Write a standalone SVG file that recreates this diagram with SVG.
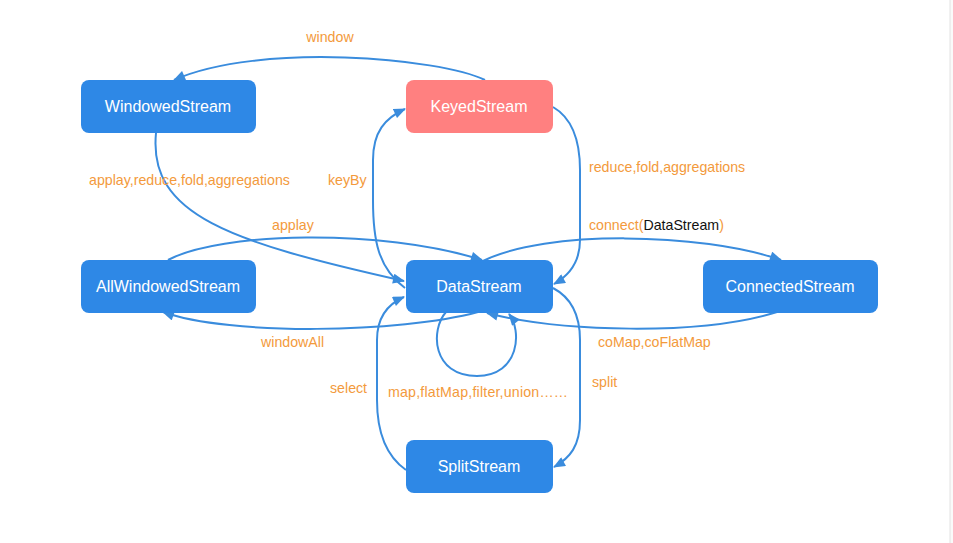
<svg xmlns="http://www.w3.org/2000/svg" width="953" height="543" viewBox="0 0 953 543">
<style>
.node rect{fill:#2E88E6;}
.node.keyed rect{fill:#FF8080;}
.node text{fill:#ffffff;font-family:"Liberation Sans",Arial,sans-serif;font-size:16px;text-anchor:middle;}
.edges path{fill:none;stroke:#3A8CDD;stroke-width:2;}
.lbl{fill:#F39A3C;font-family:"Liberation Sans",Arial,sans-serif;font-size:14.2px;}
.blk{fill:#111111;}
</style>
<defs>
<marker id="arr" viewBox="0 0 12 10" refX="11" refY="5" markerWidth="13" markerHeight="10" markerUnits="userSpaceOnUse" orient="auto">
<path d="M0,0 L12,5 L0,10 Z" fill="#3A8CDD"/>
</marker>
</defs>
<rect x="0" y="0" width="953" height="543" fill="#ffffff"/>
<rect x="950" y="0" width="3" height="543" fill="#fafafa"/>
<line x1="950" y1="0" x2="950" y2="543" stroke="#e2e2e2" stroke-width="1"/>

<g class="edges">
<path id="e-window" d="M485,80 C440,58 260,42 174,80" marker-end="url(#arr)"/>
<path id="e-wapply" d="M156,133 C148,215 230,242 404,281" marker-end="url(#arr)"/>
<path id="e-keyby" d="M405,288 C378,268 373,240 373,200 L373,160 C373,132 385,118 405,109" marker-end="url(#arr)"/>
<path id="e-reduce" d="M553,107 C572,118 580,140 580,170 L580,240 C580,262 570,275 554,284" marker-end="url(#arr)"/>
<path id="e-applay" d="M168,260 C220,232 380,228 482,260" marker-end="url(#arr)"/>
<path id="e-connect" d="M483,261 C545,230 700,232 781,260" marker-end="url(#arr)"/>
<path id="e-windowall" d="M478,312 C400,333 230,336 163,312" marker-end="url(#arr)"/>
<path id="e-comap" d="M777,312 C700,336 560,332 487,313" marker-end="url(#arr)"/>
<path id="e-self" d="M446,312 C430,330 432,376 477,376 C520,376 522,330 509,314" marker-end="url(#arr)"/>
<path id="e-select" d="M406,470 C386,456 377,432 377,400 L377,340 C377,316 388,304 404,297" marker-end="url(#arr)"/>
<path id="e-split" d="M553,288 C572,298 580,315 580,340 L580,420 C580,446 570,458 554,467" marker-end="url(#arr)"/>
</g>

<g id="n-windowed" class="node"><rect x="81" y="80" width="175" height="53" rx="8"/><text x="168" y="112">WindowedStream</text></g>
<g id="n-keyed" class="node keyed"><rect x="406" y="80" width="147" height="53" rx="8"/><text x="479" y="112">KeyedStream</text></g>
<g id="n-allwindowed" class="node"><rect x="81" y="260" width="175" height="53" rx="8"/><text x="168" y="292">AllWindowedStream</text></g>
<g id="n-data" class="node"><rect x="406" y="260" width="147" height="53" rx="8"/><text x="479" y="292">DataStream</text></g>
<g id="n-connected" class="node"><rect x="703" y="260" width="175" height="53" rx="8"/><text x="790" y="292">ConnectedStream</text></g>
<g id="n-split" class="node"><rect x="406" y="440" width="147" height="53" rx="8"/><text x="479" y="472">SplitStream</text></g>

<g id="labels">
<text class="lbl" x="330" y="42" text-anchor="middle">window</text>
<text class="lbl" x="89" y="185">applay,reduce,fold,aggregations</text>
<text class="lbl" x="328" y="185">keyBy</text>
<text class="lbl" x="589" y="172">reduce,fold,aggregations</text>
<text class="lbl" x="589" y="230">connect(<tspan class="blk">DataStream</tspan>)</text>
<text class="lbl" x="272" y="230">applay</text>
<text class="lbl" x="261" y="347">windowAll</text>
<text class="lbl" x="598" y="347">coMap,coFlatMap</text>
<text class="lbl" x="592" y="387">split</text>
<text class="lbl" x="330" y="393">select</text>
<text class="lbl" x="388" y="397" textLength="180" lengthAdjust="spacing">map,flatMap,filter,union……</text>
</g>
</svg>
